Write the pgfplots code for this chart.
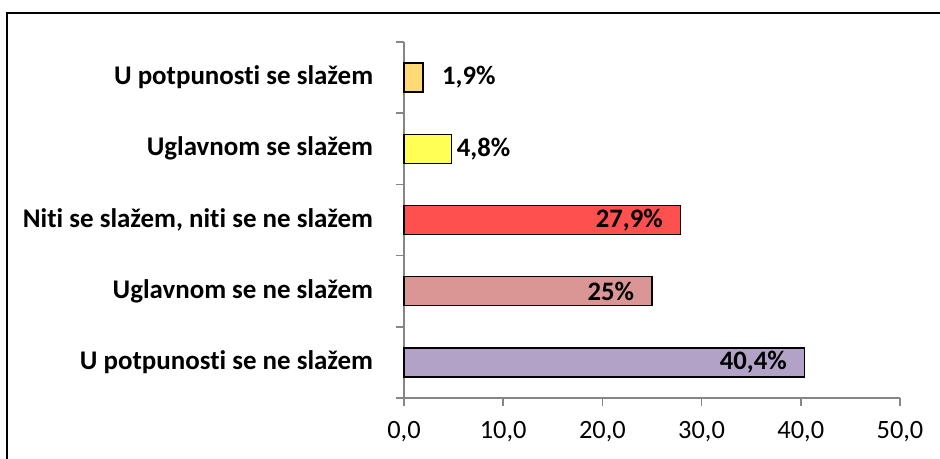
\documentclass[border=0pt]{standalone}
\usepackage{fontspec}
\setmainfont{Carlito}[Ligatures={NoCommon}]
\usepackage{pgfplots}
\pgfplotsset{compat=1.18}
\definecolor{axisgray}{RGB}{134,134,134}
\definecolor{barorange}{RGB}{255,217,117}
\definecolor{baryellow}{RGB}{255,255,85}
\definecolor{barred}{RGB}{255,80,80}
\definecolor{barpink}{RGB}{217,150,148}
\definecolor{barpurple}{RGB}{179,162,199}

\begin{document}
\begin{tikzpicture}
\useasboundingbox (0,0) rectangle (705pt,344.25pt);
\draw[line width=1.5pt] (5.25pt,-1pt) -- (5.25pt,334.5pt) -- (706pt,334.5pt);
\begin{axis}[
  at={(303pt,45.75pt)}, anchor=south west,
  scale only axis, width=372pt, height=267pt,
  xmin=0, xmax=50, ymin=0.5, ymax=5.5,
  xtick={0,10,...,50},
  ytick={0.5,1.5,...,5.5}, yticklabels={},
  extra y ticks={1,2,3,4,5},
  extra y tick labels={U potpunosti se ne slažem, Uglavnom se ne slažem, {Niti se slažem, niti se ne slažem}, Uglavnom se slažem, U potpunosti se slažem},
  extra y tick style={major tick length=0pt,
    yticklabel style={font=\bfseries\fontsize{20.2}{23}\selectfont, inner sep=0pt, anchor=east, xshift=-23pt}},
  axis x line*=bottom, axis y line*=left,
  axis line style={color=axisgray, line width=1.2pt, -},
  tick align=outside, major tick length=6pt,
  tick style={color=axisgray, line width=1.2pt},
  x tick label style={font=\fontsize{19.8}{22}\selectfont, inner sep=0pt, anchor=north, yshift=-11.5pt,
    /pgf/number format/.cd, fixed, fixed zerofill, precision=1, use comma, assume math mode=true},
  xbar, bar width=21.75pt, bar shift=0pt,
  nodes near coords, point meta=explicit symbolic,
  every node near coord/.append style={font=\bfseries\fontsize{20}{23}\selectfont, color=black, inner sep=0pt},
  clip=false,
]
\addplot[fill=barpurple, draw=black, line width=1pt,
  every node near coord/.append style={anchor=east, xshift=-13pt}]
  coordinates {(40.4,1) [40,4\%]};
\addplot[fill=barpink, draw=black, line width=1pt,
  every node near coord/.append style={anchor=east, xshift=-13pt}]
  coordinates {(25,2) [25\%]};
\addplot[fill=barred, draw=black, line width=1pt,
  every node near coord/.append style={anchor=east, xshift=-13pt}]
  coordinates {(27.9,3) [27,9\%]};
\addplot[fill=baryellow, draw=black, line width=1pt,
  every node near coord/.append style={anchor=west, xshift=3.5pt}]
  coordinates {(4.8,4) [4,8\%]};
\addplot[fill=barorange, draw=black, line width=1pt,
  every node near coord/.append style={anchor=west, xshift=14pt}]
  coordinates {(1.9,5) [1,9\%]};
\end{axis}
\end{tikzpicture}
\end{document}
